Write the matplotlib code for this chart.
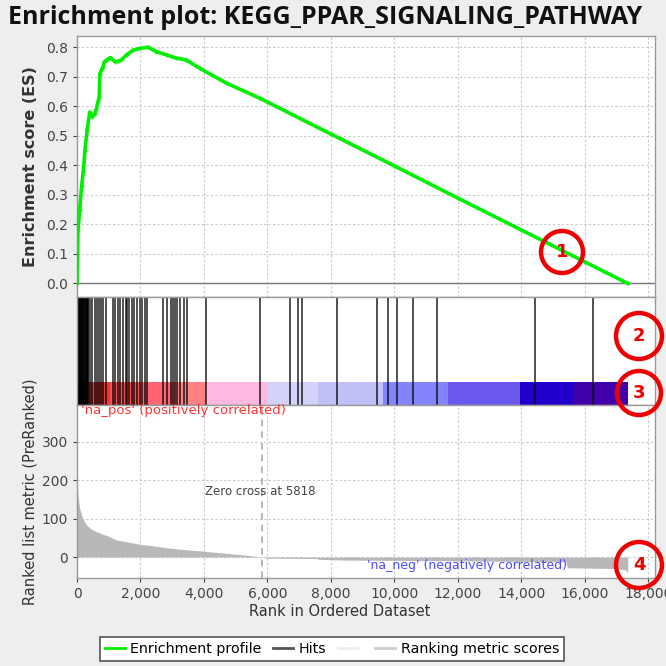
import matplotlib
matplotlib.use("Agg")
import matplotlib.pyplot as plt
from matplotlib.patches import Circle, Rectangle
from matplotlib.lines import Line2D
from matplotlib.ticker import FuncFormatter

# ---------------- data ----------------
title = "Enrichment plot: KEGG_PPAR_SIGNALING_PATHWAY"

es_rank = [0, 30, 85, 145, 200, 250, 320, 400, 470, 560, 610, 660, 700, 720, 780, 820,
           860, 940, 1050, 1200, 1290, 1400, 1560, 1770, 1980, 2240, 2500, 2820, 3130,
           3440, 3860, 4715, 5765, 8000, 10000, 12000, 14000, 16000, 17350]
es_value = [0.0, 0.18, 0.25, 0.33, 0.38, 0.45, 0.52, 0.58, 0.565, 0.575, 0.59, 0.615, 0.63,
            0.71, 0.725, 0.734, 0.75, 0.757, 0.765, 0.751, 0.752, 0.757, 0.774, 0.79, 0.796,
            0.80, 0.785, 0.774, 0.763, 0.757, 0.729, 0.678, 0.627, 0.506, 0.398, 0.289,
            0.181, 0.073, 0.0]

hit_ranks = [5, 15, 25, 35, 50, 60, 80, 90, 110, 120, 140, 150, 170, 185, 200, 215, 235, 250,
             270, 285, 300, 315, 330, 345, 355, 420, 480, 580, 640, 700, 760, 830, 920, 1140,
             1200, 1280, 1370, 1440, 1530, 1580, 1640, 1720, 1800, 1900, 1970, 2060, 2130,
             2220, 2720, 2820, 2950, 3010, 3100, 3160, 3230, 3360, 3470, 4063, 5764, 6709,
             6961, 7087, 8200, 9450, 9796, 10080, 10584, 11340, 14427, 16254]

metric_rank = [0, 20, 50, 95, 180, 305, 450, 725, 1000, 1250, 1600, 1925, 2400, 2825, 3300,
               3875, 4400, 4925, 5400, 5818, 5990, 7560, 7600, 8500, 10500, 12000, 13500,
               15400, 15450, 17000, 17300, 17350]
metric_value = [192, 170, 145, 122, 100, 83, 72, 62, 54, 44, 39, 34, 29, 24, 20, 16, 12, 8,
                4, 0, -3, -4, -6, -8, -9, -10, -11, -12, -28, -30, -34, -42]

band_edges = [0, 250, 1040, 1985, 3090, 4060, 6020, 7600, 9640, 11690, 13955, 15625, 17350]
band_colors = ["#c42a2a", "#e83a3a", "#ff4e4e", "#ff6470", "#ff8282", "#ffb8e0", "#d2d2fa",
               "#c2c0f8", "#8484ff", "#6a58ee", "#2200cc", "#4200aa"]

zero_cross = 5818
x_ticks = [0, 2000, 4000, 6000, 8000, 10000, 12000, 14000, 16000, 18000]
es_ticks = [0.0, 0.1, 0.2, 0.3, 0.4, 0.5, 0.6, 0.7, 0.8]
metric_ticks = [0, 100, 200, 300]

# ---------------- style ----------------
W = H = 666
BG = "#eeeeee"
GRID = dict(color="#c8c8c8", linestyle=(0, (2, 2)), linewidth=0.8)
TICKC = "#444444"
FONT = "DejaVu Sans"
plt.rcParams["font.family"] = [FONT]

fig = plt.figure(figsize=(W / 100, H / 100), dpi=100, facecolor=BG)

def fx(px):
    return px / W

def fy(py):
    return 1 - py / H

L, R = 77, 655
XMAX = 18210

ax1 = fig.add_axes([fx(L), fy(297), fx(R - L), (297 - 36) / H])
ax2 = fig.add_axes([fx(L), fy(405), fx(R - L), (405 - 297) / H])
ax3 = fig.add_axes([fx(L), fy(578), fx(R - L), (578 - 405) / H])

for ax in (ax1, ax2, ax3):
    ax.set_xlim(0, XMAX)
    ax.set_facecolor("white")
    for s in ax.spines.values():
        s.set_color("#999999")
        s.set_linewidth(1.0)
    ax.tick_params(colors=TICKC, labelcolor=TICKC, labelsize=10, length=3, width=0.8)

# ---- top: ES ----
ax1.set_ylim(-0.046, 0.838)
ax1.set_yticks(es_ticks)
ax1.set_yticklabels([f"{v:.1f}" for v in es_ticks])
ax1.set_xticks(x_ticks)
ax1.tick_params(axis="x", labelbottom=False, length=0)
ax1.grid(True, **GRID)
ax1.set_axisbelow(True)
ax1.axhline(0, color="#777777", lw=1.0)
ax1.plot(es_rank, es_value, color="#00ee00", lw=2.6, marker="+", markersize=3,
         markeredgewidth=1, zorder=3)
ax1.set_ylabel("Enrichment score (ES)", fontsize=11.5, fontweight="bold", color="#333333",
               labelpad=6)

# ---- middle: hits + colour bar ----
ax2.set_ylim(0, 1)
ax2.set_yticks([])
ax2.set_xticks(x_ticks)
ax2.tick_params(axis="x", labelbottom=False, length=0)
bar_top = (405 - 382) / 108
for i, c in enumerate(band_colors):
    ax2.add_patch(Rectangle((band_edges[i], 0), band_edges[i + 1] - band_edges[i], bar_top,
                            facecolor=c, edgecolor="none", zorder=1))
ax2.vlines(hit_ranks, 0, 1, colors="#000000", lw=1.2, alpha=0.8, zorder=2)

# ---- bottom: ranked metric ----
ax3.set_ylim(-54.5, 395)
ax3.set_yticks(metric_ticks)
ax3.set_xticks(x_ticks)
ax3.xaxis.set_major_formatter(FuncFormatter(lambda v, p: f"{int(v):,}"))
ax3.grid(True, **GRID)
ax3.set_axisbelow(True)
ax3.fill_between(metric_rank, 0, metric_value, color="#b8b8b8", lw=0, zorder=2)
ax3.axvline(zero_cross, color="#aaaaaa", lw=1.2, linestyle=(0, (4, 3)), zorder=3)
ax3.text(zero_cross - 60, 169, f"Zero cross at {zero_cross}", fontsize=8.5, color="#444444",
         ha="center", va="center", zorder=4)
ax3.text(120, 380, "'na_pos' (positively correlated)", fontsize=9.5, color="#ff3333",
         ha="left", va="center", zorder=4)
ax3.text(9150, -22, "'na_neg' (negatively correlated)", fontsize=9, color="#4a4aff",
         ha="left", va="center", zorder=4)
ax3.set_ylabel("Ranked list metric (PreRanked)", fontsize=10.5, color="#333333", labelpad=3)

fig.text(fx(340), fy(612), "Rank in Ordered Dataset", fontsize=10.5, color="#333333",
         ha="center", va="center")

# ---- title ----
fig.text(fx(8), fy(18), title, fontsize=18, fontweight="bold", color="#111111",
         ha="left", va="center", family="Open Sans")

# ---- legend ----
handles = [Line2D([], [], color="#00ee00", lw=2),
           Line2D([], [], color="#555555", lw=2),
           Line2D([], [], color="#eeeeee", lw=2),
           Line2D([], [], color="#cccccc", lw=2)]
labels = ["Enrichment profile", "Hits", "", "Ranking metric scores"]
leg = fig.legend(handles, labels, loc="center", bbox_to_anchor=(fx(332), fy(649)), ncol=4,
                 fontsize=10.3, frameon=True, fancybox=False, edgecolor="#555555",
                 facecolor="white", framealpha=1, handlelength=1.4, handletextpad=0.4,
                 columnspacing=0.8, borderpad=0.35)
leg.get_frame().set_linewidth(1.2)

# ---- numbered red circles ----
circles = [(562, 252, 21, "1"), (639, 336, 23, "2"), (639, 393, 22, "3"), (639, 565, 23, "4")]
for cx, cy, r, lab in circles:
    fig.add_artist(Circle((fx(cx), fy(cy)), r / W, transform=fig.transFigure, fill=False,
                          edgecolor="#ee0000", lw=3.2, zorder=10))
    fig.text(fx(cx), fy(cy), lab, color="#ee0000", fontsize=13, fontweight="bold",
             ha="center", va="center", zorder=11)

fig.savefig("out.png", dpi=100, facecolor=BG)
